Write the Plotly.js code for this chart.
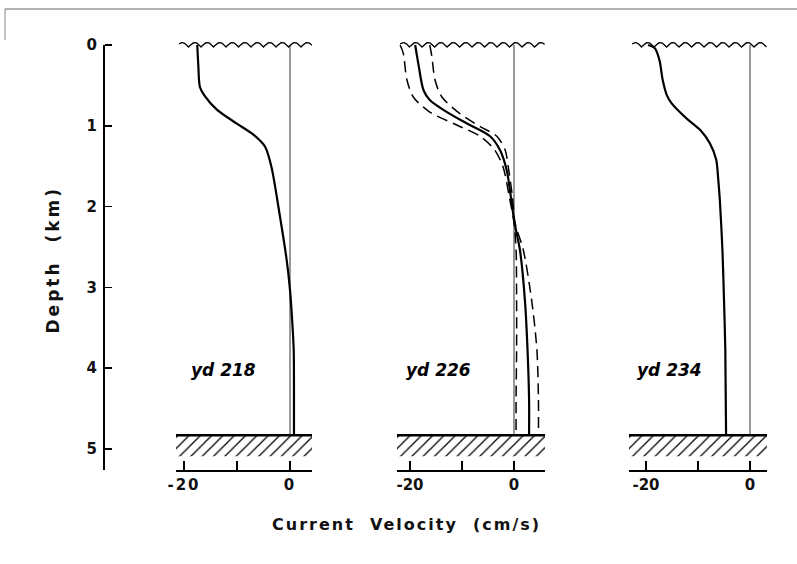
<!DOCTYPE html>
<html>
<head>
<meta charset="utf-8">
<script src="https://cdn.plot.ly/plotly-3.0.1.min.js"></script>
<style>
html,body{margin:0;padding:0;background:#fff;}
#chart{width:797px;height:564px;}
.xtick text{letter-spacing:2px;}
.ytick text{letter-spacing:1px;}
.annotation[data-index="3"] text{letter-spacing:2.0px;}
.annotation[data-index="4"] text{letter-spacing:3.0px;}
</style>
</head>
<body>
<div id="chart"></div>
<script>
// ---- data ----
const depthTicks = [0, 1, 2, 3, 4, 5];
const velTicks = [-20, -10, 0];
const velTickText = ['-20', '', '0'];
const panelLabels = ['yd 218', 'yd 226', 'yd 234'];

// yd 218
const d218 = [0, 0.25, 0.52, 0.62, 0.80, 0.97, 1.11, 1.26, 1.51, 2.12, 2.66, 3.03, 3.44, 3.77, 4.2, 4.83];
const v218 = [-17.5, -17.3, -17.0, -16.2, -13.8, -10.1, -6.9, -4.7, -3.5, -1.9, -0.63, 0, 0.44, 0.7, 0.75, 0.75];

// yd 226 (mean and two dashed envelope curves)
const d226 = [0, 0.23, 0.56, 0.68, 0.83, 0.99, 1.13, 1.30, 1.55, 1.88, 2.2, 2.54, 3.16, 3.77, 4.39, 4.83];
const v226 = [-19.0, -18.4, -17.4, -16.2, -12.9, -8.5, -4.6, -2.7, -1.4, -0.6, 0.1, 1.15, 2.1, 2.6, 2.9, 2.9];
const d226lo = [0, 0.10, 0.43, 0.64, 0.83, 0.99, 1.13, 1.30, 1.51, 1.88, 2.2, 2.54, 3.16, 3.77, 4.39, 4.83];
const v226lo = [-21.9, -21.3, -20.6, -19.4, -16.2, -11.0, -6.5, -3.7, -2.1, -0.9, 0.0, 0.4, 0.5, 0.5, 0.4, 0.4];
const d226hi = [0, 0.14, 0.43, 0.64, 0.85, 1.01, 1.13, 1.30, 1.51, 1.88, 2.2, 2.54, 3.16, 3.77, 4.39, 4.83];
const v226hi = [-16.2, -15.8, -15.2, -13.9, -10.4, -6.5, -3.3, -1.7, -1.1, -0.3, 0.2, 1.8, 3.4, 4.4, 4.7, 4.7];

// yd 234
const d234 = [0, 0.04, 0.19, 0.43, 0.62, 0.72, 0.91, 1.05, 1.22, 1.42, 1.67, 1.92, 2.54, 3.16, 3.77, 4.83];
const v234 = [-19.6, -18.3, -17.4, -16.8, -16.0, -15.1, -12.2, -9.6, -7.7, -6.5, -6.1, -5.8, -5.3, -5.0, -4.75, -4.6];

const seafloorDepth = 4.83;
const hatchBottom = 5.09;
const axisBottomDepth = 5.26;

// ---- layout helpers ----
const W = 797, H = 564;
const px = v => v / W;
const py = v => 1 - v / H;
const panels = [
  {l: 176, r: 312, zero: 290, s: 5.3},
  {l: 397, r: 545, zero: 514, s: 5.2},
  {l: 629, r: 767, zero: 750, s: 5.2}
];
const ranges = panels.map(p => [(p.l - p.zero) / p.s, (p.r - p.zero) / p.s]);
const kmPx = 80.8, zeroPy = 45, yTop = 30, yBot = 470;
const yRange = [(yBot - zeroPy) / kmPx, (yTop - zeroPy) / kmPx];

const FONT = 'DejaVu Sans, Liberation Sans, sans-serif';
const traces = [];
const axNames = ['x', 'x2', 'x3'];

function solid(x, y, ax, extra) {
  return Object.assign({type: 'scatter', mode: 'lines', x: x, y: y, xaxis: ax, yaxis: 'y',
    line: {color: '#000', width: 2.2, shape: 'spline', smoothing: 0.8}, hoverinfo: 'skip'}, extra || {});
}

panels.forEach((p, i) => {
  const ax = axNames[i];
  const [a, b] = ranges[i];
  traces.push({type: 'scatter', mode: 'lines', xaxis: ax, yaxis: 'y',
    x: [a, b, b, a, a], y: [seafloorDepth, seafloorDepth, hatchBottom, hatchBottom, seafloorDepth],
    fill: 'toself', fillcolor: 'rgba(0,0,0,0)', line: {width: 0, color: 'rgba(0,0,0,0)'},
    fillpattern: {shape: '/', size: 8, solidity: 0.16, fgcolor: '#000', bgcolor: '#fff'}, hoverinfo: 'skip'});
  traces.push(solid([a, b], [seafloorDepth, seafloorDepth], ax, {line: {color: '#000', width: 2.6}}));
  traces.push(solid([0, 0], [0, seafloorDepth], ax, {line: {color: '#333', width: 1}}));
  // sea surface (decorative wave symbol)
  const wx = [], wy = [];
  const L = 12.5 / p.s;
  for (let x = a + 0.6; x <= b + 0.01; x += L / 16) {
    wx.push(x);
    wy.push(0.025 - 0.055 * Math.abs(Math.sin(Math.PI * (x - a) / L)));
  }
  traces.push({type: 'scatter', mode: 'lines', x: wx, y: wy, xaxis: ax, yaxis: 'y',
    line: {color: '#000', width: 1.3}, hoverinfo: 'skip'});
});

const dashLine = {color: '#000', width: 1.5, dash: '11px,6px', shape: 'spline', smoothing: 0.8};
traces.push(solid(v218, d218, 'x'));
traces.push(solid(v226lo, d226lo, 'x2', {line: dashLine}));
traces.push(solid(v226hi, d226hi, 'x2', {line: dashLine}));
traces.push(solid(v226, d226, 'x2'));
traces.push(solid(v234, d234, 'x3'));

const tickFont = {family: FONT, size: 15, color: '#111', weight: 'bold'};
function xAxis(i) {
  return {domain: [px(panels[i].l), px(panels[i].r)], range: ranges[i], anchor: 'y',
    showline: true, linewidth: 2, linecolor: '#000', ticks: 'inside', ticklen: 9, tickwidth: 1.5, tickcolor: '#000',
    tickvals: velTicks, ticktext: velTickText, showgrid: false, zeroline: false, tickfont: tickFont, fixedrange: true};
}

const labelX = [-12.6, -14.6, -15.4];
const annotations = panelLabels.map((t, i) => ({
  text: t, xref: axNames[i], yref: 'y', x: labelX[i], y: 4.02, showarrow: false,
  xanchor: 'center', yanchor: 'middle',
  font: {family: FONT, size: 17, color: '#000', weight: 'bold', style: 'italic'}
}));
annotations.push({text: 'Current  Velocity  (cm/s)', xref: 'paper', yref: 'paper', x: px(407), y: py(524),
  xanchor: 'center', yanchor: 'middle', showarrow: false, font: {family: FONT, size: 16, color: '#111', weight: 'bold'}});
annotations.push({text: 'Depth  (km)', xref: 'paper', yref: 'paper', x: px(53), y: py(260), textangle: -90,
  xanchor: 'center', yanchor: 'middle', showarrow: false, font: {family: FONT, size: 17, color: '#111', weight: 'bold'}});

const layout = {
  width: W, height: H, margin: {l: 0, r: 0, t: 0, b: 0},
  paper_bgcolor: '#fff', plot_bgcolor: 'rgba(0,0,0,0)', showlegend: false,
  xaxis: xAxis(0), xaxis2: xAxis(1), xaxis3: xAxis(2),
  yaxis: {domain: [py(yBot), py(yTop)], range: yRange, anchor: 'free', position: px(104), side: 'left',
    showline: false, ticks: 'inside', ticklen: 7, tickwidth: 1.5, tickcolor: '#000', tickvals: depthTicks,
    showgrid: false, zeroline: false, tickfont: tickFont, ticklabelstandoff: 6, fixedrange: true},
  shapes: [
    {type: 'line', xref: 'paper', yref: 'y', x0: px(104), x1: px(104), y0: 0, y1: axisBottomDepth, line: {color: '#000', width: 2}},
    {type: 'line', xref: 'paper', yref: 'paper', x0: px(5), x1: 1, y0: py(9), y1: py(9), line: {color: '#999', width: 1.5}},
    {type: 'line', xref: 'paper', yref: 'paper', x0: px(5), x1: px(5), y0: py(9), y1: py(40), line: {color: '#999', width: 1.2}}
  ],
  annotations: annotations
};
Plotly.newPlot('chart', traces, layout, {staticPlot: true, displayModeBar: false});
</script>
</body>
</html>
